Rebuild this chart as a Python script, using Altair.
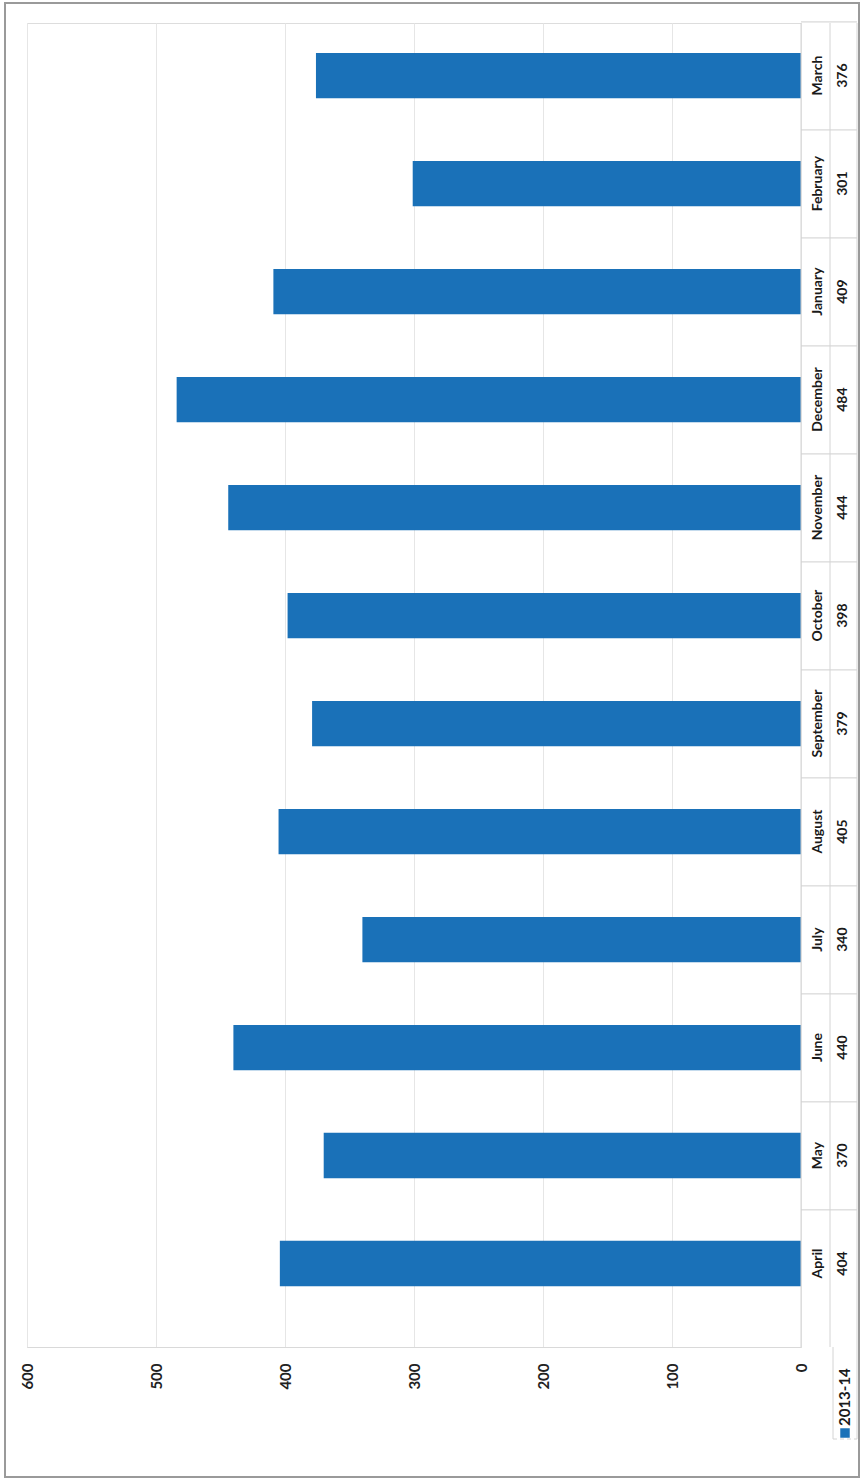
import altair as alt
import pandas as pd

months = ["April", "May", "June", "July", "August", "September",
          "October", "November", "December", "January", "February", "March"]
values = [404, 370, 440, 340, 405, 379, 398, 444, 484, 409, 301, 376]
series_name = "2013-14"
x_ticks = [0, 100, 200, 300, 400, 500, 600]

df = pd.DataFrame({"month": months, "value": values})
order = months[::-1]  # March on top, April at bottom

W, H = 774, 1324
BLUE = "#1a71b8"
FONT = "Lato"

yscale = alt.Scale(domain=order, paddingInner=0.58, paddingOuter=0.42, align=0.33)
xscale = alt.Scale(domain=[0, 600], reverse=True, nice=False)

base = alt.Chart(df)

bars = base.mark_bar(color=BLUE).encode(
    x=alt.X("value:Q", scale=xscale,
            axis=alt.Axis(values=x_ticks, labelAngle=270, labelPadding=16,
                          labelFontSize=15, labelFont=FONT, labelFontWeight="bold",
                          labelColor="#222222", ticks=False, domainColor="#d9d9d9",
                          gridColor="#e6e6e6", title=None)),
    y=alt.Y("month:N", scale=yscale, axis=None),
)

month_text = base.mark_text(angle=270, font=FONT, fontSize=14, fontWeight="bold",
                            color="#1a1a1a", align="center", baseline="middle").encode(
    x=alt.value(W + 17),
    y=alt.Y("month:N", scale=yscale),
    text="month:N",
)

value_text = base.mark_text(angle=270, font=FONT, fontSize=14, fontWeight="bold",
                            color="#1a1a1a", align="center", baseline="middle").encode(
    x=alt.value(W + 42),
    y=alt.Y("month:N", scale=yscale),
    text="value:Q",
)

# table separators between categories
sep = base.mark_rule(color="#cfcfcf", strokeWidth=1, yOffset=-31).encode(
    y=alt.Y("month:N", scale=yscale, bandPosition=0),
    x=alt.value(W),
    x2=alt.value(W + 56),
)

# table vertical lines
vlines_df = pd.DataFrame({"k": [0]})
vl1 = alt.Chart(vlines_df).mark_rule(color="#d4d4d4").encode(
    x=alt.value(W + 29), y=alt.value(0), y2=alt.value(H))
vl2 = alt.Chart(vlines_df).mark_rule(color="#d4d4d4").encode(
    x=alt.value(W + 56), y=alt.value(0), y2=alt.value(H + 92))
vl3 = alt.Chart(vlines_df).mark_rule(color="#d4d4d4").encode(
    x=alt.value(W), y=alt.value(0), y2=alt.value(H))
leg_left = alt.Chart(vlines_df).mark_rule(color="#d4d4d4").encode(
    x=alt.value(W + 32), y=alt.value(H), y2=alt.value(H + 92))
leg_bot = alt.Chart(vlines_df).mark_rule(color="#d4d4d4", strokeDash=[4, 3]).encode(
    x=alt.value(W + 32), x2=alt.value(W + 56), y=alt.value(H + 92))

# legend
leg_df = pd.DataFrame({"name": [series_name]})
leg_text = alt.Chart(leg_df).mark_text(angle=270, font=FONT, fontSize=15, fontWeight="bold",
                                       color="#1a1a1a", align="left", baseline="middle").encode(
    x=alt.value(W + 44), y=alt.value(H + 79), text="name:N")
leg_sq = alt.Chart(leg_df).mark_square(color=BLUE, size=90, opacity=1).encode(
    x=alt.value(W + 44), y=alt.value(H + 86))

# outer border
border = alt.Chart(leg_df).mark_rect(fillOpacity=0, stroke="#9a9a9a", strokeWidth=2).encode(
    x=alt.value(-22), x2=alt.value(W + 58), y=alt.value(-20), y2=alt.value(H + 130))

chart = alt.layer(
    bars, sep, vl1, vl2, vl3, leg_left, leg_bot, month_text, value_text,
    leg_text, leg_sq, border
).properties(
    width=W, height=H,
    autosize=alt.AutoSizeParams(type="none"),
    padding={"left": 27, "top": 23, "right": 862 - 27 - W, "bottom": 1483 - 23 - H},
).configure_view(stroke=None).configure(background="white")

chart.save("out.html", embed_options={"renderer": "svg", "actions": False})
